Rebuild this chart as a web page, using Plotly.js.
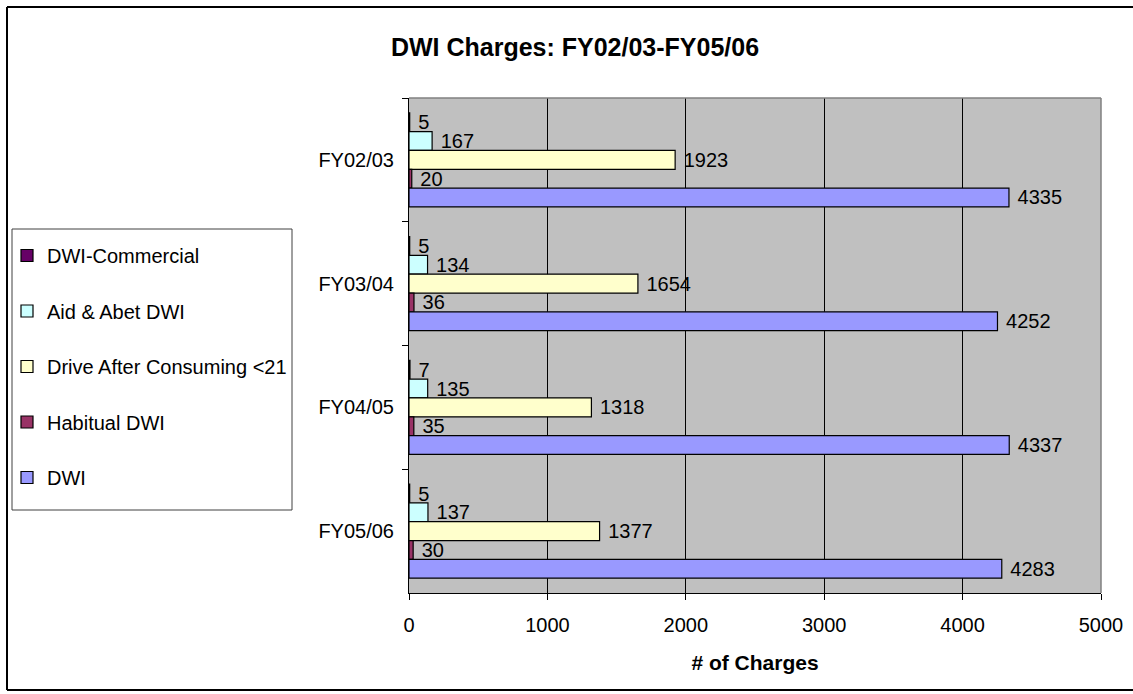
<!DOCTYPE html>
<html>
<head>
<meta charset="utf-8">
<script src="https://cdn.plot.ly/plotly-3.0.1.min.js"></script>
<style>
  html, body { margin: 0; padding: 0; background: #fff; overflow: hidden; }
  #chart { width: 1133px; height: 694px; }
</style>
</head>
<body>
<div id="chart"></div>
<script>
// ---- data ----
const categories = ["FY02/03", "FY03/04", "FY04/05", "FY05/06"];
const seriesNames = ["DWI-Commercial", "Aid & Abet DWI", "Drive After Consuming <21", "Habitual DWI", "DWI"];
const dwiCommercial = [5, 5, 7, 5];
const aidAbet = [167, 134, 135, 137];
const driveAfter = [1923, 1654, 1318, 1377];
const habitual = [20, 36, 35, 30];
const dwi = [4335, 4252, 4337, 4283];
const seriesValues = [dwiCommercial, aidAbet, driveAfter, habitual, dwi];
const seriesColors = ["#660066", "#CCFFFF", "#FFFFCC", "#993366", "#9999FF"];
const xTickVals = [0, 1000, 2000, 3000, 4000, 5000];

// ---- layout geometry ----
const W = 1133, H = 694;
const M = { l: 409, r: 32, t: 98, b: 101, autoexpand: false };
const PW = W - M.l - M.r, PH = H - M.t - M.b;
const px = x => (x - M.l) / PW;          // container px -> paper x
const py = y => (H - M.b - y) / PH;      // container px -> paper y

const FONT = "Liberation Sans, Arial, sans-serif";

const traces = seriesNames.map((name, i) => ({
  type: "bar",
  orientation: "h",
  name: name,
  y: categories,
  x: seriesValues[i],
  legendgroup: "g" + i,
  marker: { color: seriesColors[i], line: { color: "#000", width: 1.2 } },
  text: seriesValues[i].map(v => " " + v),
  texttemplate: "%{text}",
  textposition: "outside",
  constraintext: "none",
  cliponaxis: false,
  textfont: { family: FONT, size: 20, color: "#000" },
  hoverinfo: "x+name"
}));

const frameLine = (x0, y0, x1, y1) => ({
  type: "line", xref: "paper", yref: "paper",
  x0: px(x0), y0: py(y0), x1: px(x1), y1: py(y1),
  line: { color: "#000", width: 2 }, layer: "above"
});

const layout = {
  width: W, height: H,
  margin: M,
  paper_bgcolor: "#fff",
  plot_bgcolor: "#C0C0C0",
  font: { family: FONT, size: 20, color: "#000" },
  barmode: "group",
  bargap: 0.24,
  bargroupgap: 0,
  title: {
    text: "<b>DWI Charges: FY02/03-FY05/06</b>",
    xref: "container", yref: "container",
    x: 575 / W, y: 1 - 47 / H,
    xanchor: "center", yanchor: "middle",
    font: { family: FONT, size: 25, color: "#000" }
  },
  xaxis: {
    range: [0, 5000],
    tickvals: xTickVals,
    ticktext: xTickVals.map(String),
    showgrid: true, gridcolor: "#000", gridwidth: 1,
    zeroline: false,
    showline: true, linecolor: "#000", linewidth: 1,
    ticks: "outside", ticklen: 6, tickcolor: "#000",
    ticklabelstandoff: 8,
    tickfont: { family: FONT, size: 20, color: "#000" },
    title: {
      text: "<b># of Charges</b>",
      font: { family: FONT, size: 21, color: "#000" },
      standoff: 20
    },
    automargin: false,
    fixedrange: true
  },
  yaxis: {
    type: "category",
    autorange: "reversed",
    showgrid: false, zeroline: false,
    showline: true, linecolor: "#000", linewidth: 1,
    ticks: "outside", ticklen: 6, tickcolor: "#000",
    tickson: "boundaries",
    ticklabelstandoff: 10,
    tickfont: { family: FONT, size: 20, color: "#000" },
    automargin: false,
    fixedrange: true
  },
  legend: {
    x: px(7), y: py(236),
    xanchor: "left", yanchor: "top",
    bgcolor: "rgba(0,0,0,0)",
    borderwidth: 0,
    traceorder: "grouped",
    tracegroupgap: 26.5,
    font: { family: FONT, size: 20, color: "#000" },
    itemwidth: 30
  },
  shapes: [
    // legend box
    { type: "rect", xref: "paper", yref: "paper", x0: px(12), x1: px(292), y0: py(229), y1: py(510), line: { color: "#404040", width: 1 }, fillcolor: "#fff", layer: "below" },
    // plot-area top & right border (gray)
    { type: "line", xref: "paper", yref: "paper", x0: 0, x1: 1, y0: 1, y1: 1, line: { color: "#808080", width: 1.5 }, layer: "above" },
    { type: "line", xref: "paper", yref: "paper", x0: 1, x1: 1, y0: 0, y1: 1, line: { color: "#808080", width: 1.5 }, layer: "above" },
    // outer chart frame (left, top, bottom)
    frameLine(7, 7, 7, 690),
    frameLine(7, 7, 1133, 7),
    frameLine(7, 690, 1133, 690)
  ],
  showlegend: true
};

Plotly.newPlot("chart", traces, layout, { displayModeBar: false, staticPlot: true });
</script>
</body>
</html>
